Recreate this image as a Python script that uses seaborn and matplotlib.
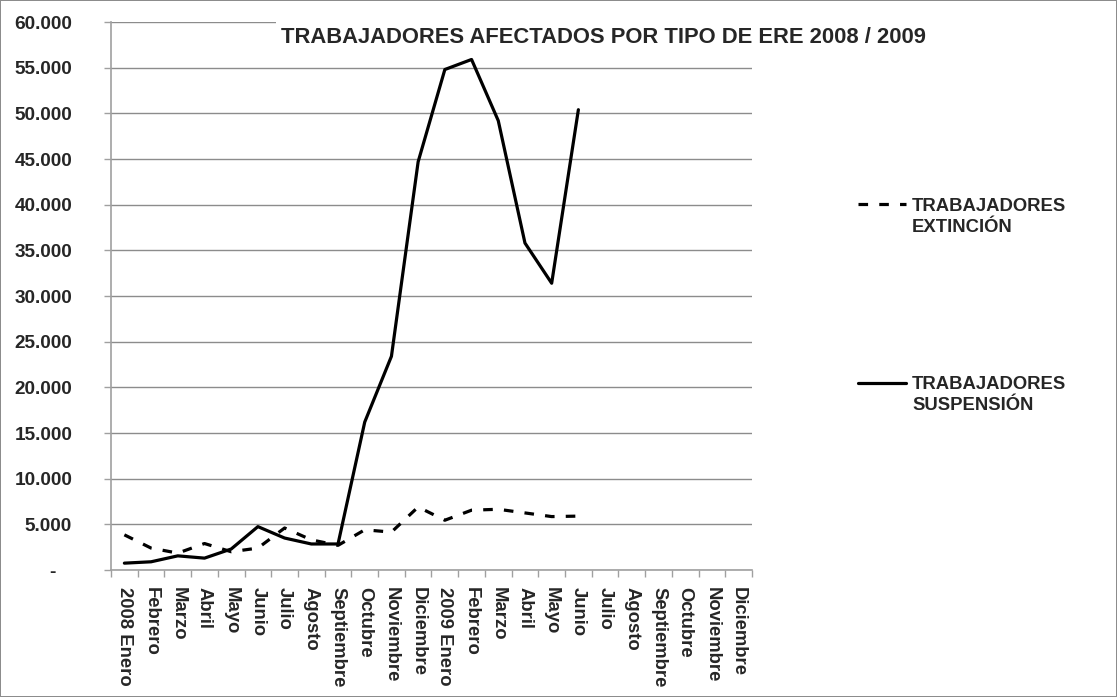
import numpy as np
import pandas as pd
import seaborn as sns
import matplotlib.pyplot as plt
from matplotlib.text import Annotation
from matplotlib.ticker import FuncFormatter, FixedLocator

meses = ['2008 Enero', 'Febrero', 'Marzo', 'Abril', 'Mayo', 'Junio', 'Julio',
         'Agosto', 'Septiembre', 'Octubre', 'Noviembre', 'Diciembre',
         '2009 Enero', 'Febrero', 'Marzo', 'Abril', 'Mayo', 'Junio', 'Julio',
         'Agosto', 'Septiembre', 'Octubre', 'Noviembre', 'Diciembre']
extincion = [3850, 2400, 1850, 2900, 2000, 2400, 4600, 3300, 2700, 4400, 4150,
             6900, 5450, 6550, 6650, 6250, 5850, 5900]
suspension = [750, 900, 1550, 1300, 2300, 4750, 3500, 2850, 2850, 16200, 23400,
              44700, 54800, 55900, 49200, 35800, 31400, 50400]

df = pd.concat([
    pd.DataFrame({'pos': np.arange(len(extincion)), 'valor': extincion, 'serie': 'EXT'}),
    pd.DataFrame({'pos': np.arange(len(suspension)), 'valor': suspension, 'serie': 'SUS'}),
])

sns.set_style('white')
plt.rcParams['font.family'] = ['Liberation Sans', 'DejaVu Sans']
plt.rcParams['font.weight'] = 'bold'

fig = plt.figure(figsize=(11.17, 6.97), dpi=100, edgecolor='#8c8c8c', linewidth=1.2)
ax = fig.add_axes([0.0994, 0.1822, 0.5738, 0.7862])

sns.lineplot(data=df, x='pos', y='valor', hue='serie', style='serie',
             palette={'EXT': 'black', 'SUS': 'black'},
             dashes={'EXT': (3, 3.5), 'SUS': ''},
             linewidth=2.3, legend=False, ax=ax)

ax.set_xlim(-0.5, len(meses) - 0.5)
ax.set_ylim(0, 60000)
ax.set_yticks(np.arange(0, 60001, 5000))
ax.yaxis.set_major_formatter(FuncFormatter(
    lambda v, p: '-   ' if v == 0 else f'{v:,.0f}'.replace(',', '.')))
ax.grid(axis='y', color='#8c8c8c', linewidth=1)
ax.set_axisbelow(True)

ax.set_xticks(np.arange(len(meses)))
ax.set_xticklabels(meses, rotation=-90, fontsize=13.3, fontweight='bold', va='top')
ax.xaxis.set_minor_locator(FixedLocator(np.arange(len(meses) + 1) - 0.5))
ax.tick_params(axis='x', which='major', length=0, pad=12)
ax.tick_params(axis='x', which='minor', length=5, color='#a0a0a0', width=1, direction='out', bottom=True)
ax.tick_params(axis='y', length=5, color='#a0a0a0', width=1, direction='out', left=True, pad=23, labelsize=13.7)

ax.set_xlabel('')
ax.set_ylabel('')
for s in ['top', 'right']:
    ax.spines[s].set_visible(False)
for s in ['left', 'bottom']:
    ax.spines[s].set_color('#a0a0a0')
    ax.spines[s].set_linewidth(1.2)

fig.text(0.5405, 0.946, 'TRABAJADORES AFECTADOS POR TIPO DE ERE 2008 / 2009',
         ha='center', va='center', fontsize=15.8, fontweight='bold',
         bbox=dict(facecolor='white', edgecolor='none', pad=4))

lines = ax.get_lines()
leg = fig.legend([lines[0], lines[1]], ['TRABAJADORES', 'TRABAJADORES'],
                 loc='upper left', bbox_to_anchor=(0.768, 0.716), frameon=False,
                 borderpad=0, borderaxespad=0, handlelength=2.6, handletextpad=0.33,
                 labelspacing=8.72, prop={'size': 13.3, 'weight': 'bold'})
# second line of each legend label, placed under the first one
for t, sub in zip(leg.get_texts(), ['EXTINCIÓN', 'SUSPENSIÓN']):
    an = Annotation(sub, xy=(0, 0), xycoords=t, xytext=(0, -3), textcoords='offset points',
                    va='top', ha='left', fontsize=13.3, fontweight='bold')
    an.set_zorder(10)
    fig.add_artist(an)

fig.savefig('out.png', dpi=100)
